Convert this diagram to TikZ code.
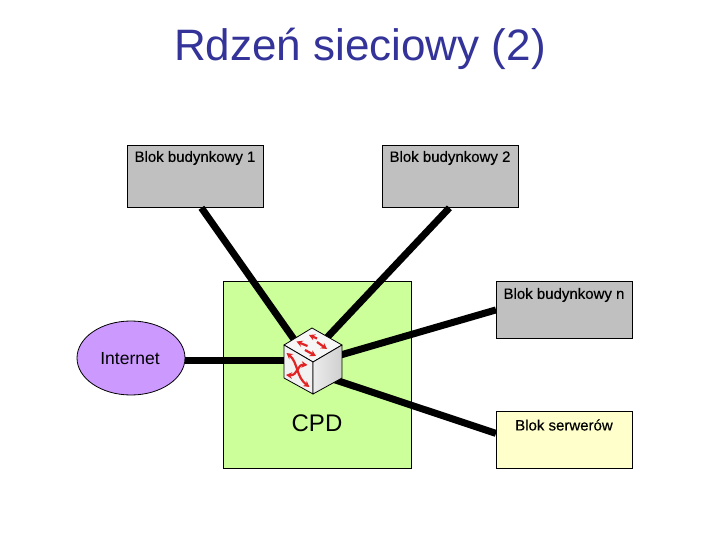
\documentclass[tikz,border=0pt]{standalone}
\usepackage{fontspec}
\setmainfont{Liberation Sans}
\newfontfamily\blockfont[FakeBold=0.4]{Liberation Sans}
\usetikzlibrary{arrows.meta,shapes.geometric}
\definecolor{titleblue}{RGB}{51,51,153}
\definecolor{boxgray}{RGB}{192,192,192}
\definecolor{cpdgreen}{RGB}{204,255,153}
\definecolor{netviolet}{RGB}{204,153,255}
\definecolor{srvyellow}{RGB}{255,255,204}
\definecolor{swred}{RGB}{225,35,35}
\tikzset{
  blockbox/.style={draw=black,line width=0.8pt,minimum width=136pt,inner sep=0pt,anchor=north west},
  blocklabel/.style={font=\blockfont\fontsize{15}{18}\selectfont,inner sep=0pt},
  link/.style={line width=7pt,black},
  swarrow/.style={swred,line width=2.2pt,-{Stealth[length=6pt,width=6.5pt]}},
  swboth/.style={swred,line width=2.2pt,{Stealth[length=6pt,width=6.5pt]}-{Stealth[length=6pt,width=6.5pt]}},
  swface/.style={draw=black,line width=0.8pt,line join=round},
}
\begin{document}
\begin{tikzpicture}[x=1pt,y=-1pt]
\useasboundingbox (0,0) rectangle (720,540);
\fill[white] (0,0) rectangle (720,540);
\node[font=\fontsize{44}{50}\selectfont,text=titleblue,inner sep=0pt] (title) at (360,49) {Rdzeń sieciowy (2)};
\node[draw=black,line width=0.8pt,fill=cpdgreen,minimum width=188pt,minimum height=187pt,inner sep=0pt,anchor=north west] (cpd) at (223,281) {};
\node[font=\fontsize{24}{28}\selectfont,inner sep=0pt] (cpdl) at (317,423) {CPD};
\node[blockbox,fill=boxgray,minimum height=62pt] (b1) at (127,145) {};
\node[blockbox,fill=boxgray,minimum height=62pt] (b2) at (382,145) {};
\node[blockbox,fill=boxgray,minimum height=57pt] (bn) at (496,281) {};
\node[blockbox,fill=srvyellow,minimum height=57pt] (bs) at (496,411) {};
\node[blocklabel] (b1l) at (195,158) {Blok budynkowy 1};
\node[blocklabel] (b2l) at (450,158) {Blok budynkowy 2};
\node[blocklabel] (bnl) at (564,295) {Blok budynkowy n};
\node[blocklabel] (bsl) at (564,425) {Blok serwerów};
\node[draw=black,line width=0.8pt,fill=netviolet,ellipse,minimum width=108pt,minimum height=74pt,inner sep=0pt] (inet) at (131,358) {};
\node[font=\fontsize{17.5}{20}\selectfont,inner sep=0pt] (inetl) at (130,359) {Internet};
\coordinate (sw) at (313,361);
\draw[link] ([xshift=6pt]b1.south) -- ([xshift=-15pt,yshift=16pt]sw);
\draw[link] ([xshift=-1pt]b2.south) -- ([xshift=7pt,yshift=16pt]sw);
\draw[link] (bn.west) -- ([yshift=-2pt]sw);
\draw[link] ([yshift=6.5pt]bs.west) -- ([yshift=-11.5pt]sw);
\draw[link] ([yshift=-2pt]inet.east) -- ([yshift=-2pt]inet.east -| sw);
% switch cube
\draw[swface,fill=white!93!gray] (312,328) -- (342,345) -- (313,362) -- (284,345) -- cycle;
\draw[swface,fill=white!90!gray] (284,345) -- (313,362) -- (313,394) -- (284,378) -- cycle;
\shade[left color=white!85!gray,right color=white!62!gray,draw=black,line width=0.8pt,line join=round] (313,362) -- (342,345) -- (342,378) -- (313,394) -- cycle;
\draw[swarrow] (317,338.5) -- (309,335);
\draw[swarrow] (317,342) -- (327,349);
\draw[swarrow] (307.5,346) -- (296.5,341.5);
\draw[swarrow] (305,350) -- (316,356);
\draw[swboth] (286.5,353) .. controls (298,362) and (296,377) .. (309.5,387);
\draw[swboth] (286,375) .. controls (298,376) and (297,364) .. (307.5,365);
\end{tikzpicture}
\end{document}
